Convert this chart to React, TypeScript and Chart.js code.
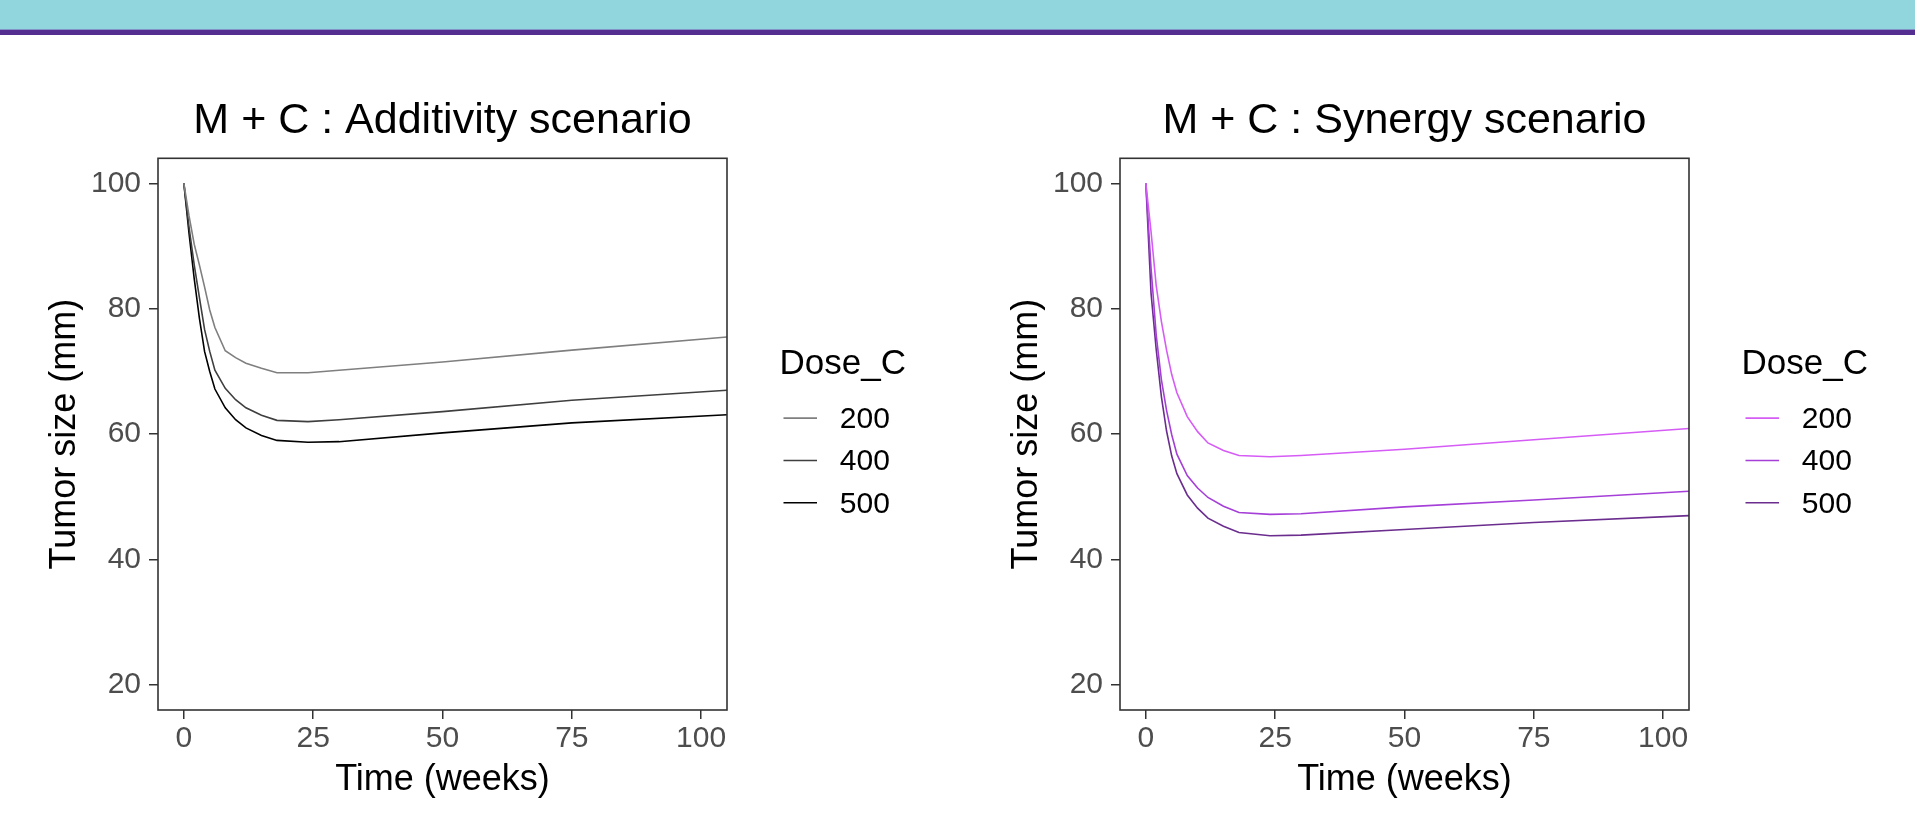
import React, { useEffect, useRef } from 'react';
import { Chart, registerables } from 'chart.js';

Chart.register(...registerables);

const fontFamily = '"Liberation Sans", Arial, Helvetica, sans-serif';
Chart.defaults.font.family = fontFamily;

// ---- data ----
const times = [0, 1, 2, 3, 4, 5, 6, 8, 10, 12, 15, 18, 24, 30, 50, 75, 105];
const doseLabels = ['200', '400', '500'];

const additivity200 = [100, 94.8, 90.3, 87.0, 83.5, 79.8, 77.0, 73.3, 72.2, 71.3, 70.5, 69.8, 69.8, 70.2, 71.5, 73.4, 75.5];
const additivity400 = [100, 93.0, 87.0, 81.8, 76.7, 73.2, 70.2, 67.3, 65.5, 64.2, 63.0, 62.2, 62.0, 62.3, 63.6, 65.4, 67.0];
const additivity500 = [100, 92.0, 84.8, 78.5, 73.2, 70.0, 67.2, 64.2, 62.3, 61.0, 59.8, 59.0, 58.7, 58.8, 60.2, 61.8, 63.1];

const synergy200 = [100, 92.3, 83.7, 78.0, 73.4, 69.5, 66.6, 62.8, 60.4, 58.6, 57.4, 56.6, 56.4, 56.6, 57.6, 59.1, 60.9];
const synergy400 = [100, 86.5, 75.8, 68.7, 63.8, 59.9, 56.8, 53.4, 51.4, 49.9, 48.5, 47.5, 47.2, 47.3, 48.4, 49.5, 50.9];
const synergy500 = [100, 82.5, 73.5, 66.0, 60.5, 56.5, 53.7, 50.3, 48.2, 46.6, 45.3, 44.3, 43.8, 43.9, 44.8, 45.9, 47.0];

const xTickValues = [0, 25, 50, 75, 100];
const yTickValues = [20, 40, 60, 80, 100];

const greyColors = ['#7F7F7F', '#3F3F3F', '#000000'];
const purpleColors = ['#D65CF6', '#A53FD8', '#6B2D8E'];

// ---- plugins ----
const panelBox = {
  id: 'panelBox',
  afterDatasetsDraw(chart: any) {
    const { ctx, chartArea: a } = chart;
    ctx.save();
    ctx.strokeStyle = '#333333';
    ctx.lineWidth = 1.6;
    ctx.strokeRect(a.left, a.top, a.right - a.left, a.bottom - a.top);
    ctx.restore();
  },
};

const doseLegend = {
  id: 'doseLegend',
  afterDraw(chart: any, _args: any, opts: any) {
    const { ctx, chartArea: a } = chart;
    const cy = (a.top + a.bottom) / 2;
    ctx.save();
    ctx.textAlign = 'left';
    ctx.textBaseline = 'middle';
    ctx.fillStyle = '#000000';
    ctx.font = `35px ${fontFamily}`;
    ctx.fillText(opts.title, a.right + 52.5, cy - 70);
    ctx.font = `30px ${fontFamily}`;
    chart.data.datasets.forEach((ds: any, i: number) => {
      const y = cy - 16 + i * 42.3;
      ctx.strokeStyle = ds.borderColor;
      ctx.lineWidth = ds.borderWidth;
      ctx.beginPath();
      ctx.moveTo(a.right + 56.5, y);
      ctx.lineTo(a.right + 90, y);
      ctx.stroke();
      ctx.fillStyle = '#000000';
      ctx.fillText(ds.label, a.right + 112.8, y + 1.7);
    });
    ctx.restore();
  },
};

const CANVAS_H = 803;

function makeConfig(title: string, series: number[][], colors: string[], padRight: number): any {
  const gridOpts = {
    display: true,
    drawOnChartArea: false,
    drawTicks: true,
    tickLength: 9,
    color: '#333333',
    lineWidth: 1.5,
  };
  return {
    type: 'line',
    data: {
      datasets: series.map((s, i) => ({
        label: doseLabels[i],
        data: times.map((t, j) => ({ x: t, y: s[j] })),
        borderColor: colors[i],
        backgroundColor: colors[i],
        borderWidth: 1.6,
        pointRadius: 0,
        tension: 0,
        fill: false,
      })),
    },
    plugins: [panelBox, doseLegend],
    options: {
      animation: false,
      responsive: false,
      devicePixelRatio: 1,
      events: [],
      layout: { padding: { left: 0, top: 0, bottom: 0, right: padRight } },
      plugins: {
        legend: { display: false },
        tooltip: { enabled: false },
        title: {
          display: true,
          text: title,
          color: '#000000',
          fullSize: false,
          font: { size: 43, weight: 'normal', family: fontFamily },
          padding: { top: 59.7, bottom: 11 },
        },
        doseLegend: { title: 'Dose_C' },
      },
      scales: {
        x: {
          type: 'linear',
          min: -5,
          max: 105,
          afterBuildTicks: (s: any) => {
            s.ticks = xTickValues.map((v) => ({ value: v }));
          },
          afterFit: (s: any) => {
            s.height = 129;
          },
          ticks: {
            color: '#4D4D4D',
            font: { size: 30 },
            padding: 2,
            maxRotation: 0,
            autoSkip: false,
          },
          grid: gridOpts,
          border: { display: false },
          title: {
            display: true,
            text: 'Time (weeks)',
            color: '#000000',
            font: { size: 36 },
            padding: { top: 0, bottom: 37 },
          },
        },
        y: {
          type: 'linear',
          min: 16,
          max: 104,
          afterBuildTicks: (s: any) => {
            s.ticks = yTickValues.map((v) => ({ value: v }));
          },
          afterFit: (s: any) => {
            s.width = 158;
          },
          ticks: {
            color: '#4D4D4D',
            font: { size: 30 },
            padding: 8,
          },
          grid: gridOpts,
          border: { display: false },
          title: {
            display: true,
            text: 'Tumor size (mm)',
            color: '#000000',
            font: { size: 36 },
            padding: { top: 43, bottom: 0 },
          },
        },
      },
    },
  };
}

function TumorChart(props: { title: string; series: number[][]; colors: string[]; left: number; width: number }) {
  const ref = useRef<HTMLCanvasElement | null>(null);
  const { title, series, colors, left, width } = props;
  useEffect(() => {
    if (!ref.current) return;
    const chart = new Chart(ref.current, makeConfig(title, series, colors, width - 727));
    return () => chart.destroy();
  }, [title, series, colors, left, width]);
  return (
    <canvas
      ref={ref}
      width={width}
      height={CANVAS_H}
      style={{ position: 'absolute', left, top: 36, width, height: CANVAS_H, display: 'block' }}
    />
  );
}

const additivitySeries = [additivity200, additivity400, additivity500];
const synergySeries = [synergy200, synergy400, synergy500];

export default function App() {
  return (
    <div
      style={{
        position: 'absolute',
        left: 0,
        top: 0,
        width: 1915,
        height: 839,
        overflow: 'hidden',
        background: '#ffffff',
      }}
    >
      <div style={{ position: 'absolute', left: 0, top: 0, width: 1915, height: 29, background: '#92D6DD' }} />
      <div style={{ position: 'absolute', left: 0, top: 29, width: 1915, height: 1, background: '#8294C6' }} />
      <div style={{ position: 'absolute', left: 0, top: 30, width: 1915, height: 5, background: '#542E91' }} />
      <TumorChart title="M + C : Additivity scenario" series={additivitySeries} colors={greyColors} left={0} width={962} />
      <TumorChart title="M + C : Synergy scenario" series={synergySeries} colors={purpleColors} left={962} width={953} />
    </div>
  );
}
